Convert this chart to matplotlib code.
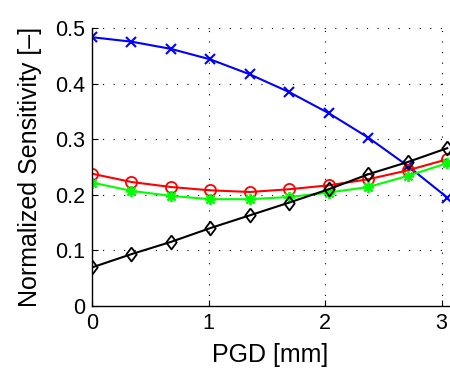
import numpy as np
import matplotlib
matplotlib.use("Agg")
import matplotlib.pyplot as plt

plt.rcParams["font.family"] = ["Liberation Sans", "DejaVu Sans"]

# PGD positions [mm] and normalized sensitivities for the four cases
pgd = [0.0, 0.339, 0.677, 1.016, 1.355, 1.693, 2.032, 2.371, 2.709, 3.048]
sens_blue = [0.484, 0.476, 0.463, 0.444, 0.417, 0.385, 0.347, 0.303, 0.252, 0.195]
sens_red = [0.238, 0.223, 0.214, 0.208, 0.205, 0.210, 0.217, 0.228, 0.244, 0.264]
sens_green = [0.222, 0.207, 0.198, 0.192, 0.192, 0.196, 0.204, 0.214, 0.234, 0.257]
sens_black = [0.069, 0.093, 0.115, 0.140, 0.163, 0.186, 0.210, 0.237, 0.259, 0.284]

diamond = [(0, 1), (0.75, 0), (0, -1), (-0.75, 0), (0, 1)]

fig = plt.figure(figsize=(4.5, 3.73), dpi=100)
ax = fig.add_axes([0.2044, 0.1804, 0.7926, 0.7436])

ax.plot(pgd, sens_blue, color=(0, 0, 1), lw=1.5, marker="x", ms=7.5, mew=1.5)
ax.plot(pgd, sens_red, color=(1, 0, 0), lw=1.5, marker="o", ms=8, mew=1.3, mfc="none")
ax.plot(pgd, sens_green, color=(0, 1, 0), lw=1.5, marker=(8, 2, 0), ms=8, mew=1.3)
ax.plot(pgd, sens_black, color="black", lw=1.5, marker=diamond, ms=10, mew=1.3, mfc="none")

ax.set_xlim(0, 3.06)
ax.set_ylim(0, 0.5)
ax.set_xticks([0, 1, 2, 3])
ax.set_yticks([0, 0.1, 0.2, 0.3, 0.4, 0.5])
ax.set_yticklabels(["0", "0.1", "0.2", "0.3", "0.4", "0.5"])

ax.spines["top"].set_visible(False)
ax.spines["right"].set_visible(False)
ax.spines["left"].set_linewidth(1.0)
ax.spines["bottom"].set_linewidth(1.0)
ax.tick_params(direction="in", length=4, width=0.8, labelsize=15.5, pad=5)
ax.grid(True, color="black", linestyle=(0, (1, 8.5)), linewidth=0.8)

ax.set_xlabel("PGD [mm]", fontsize=18, labelpad=7)
ax.set_ylabel("Normalized Sensitivity [\u2013]", fontsize=18, labelpad=9)

fig.savefig("out.png", dpi=100)
